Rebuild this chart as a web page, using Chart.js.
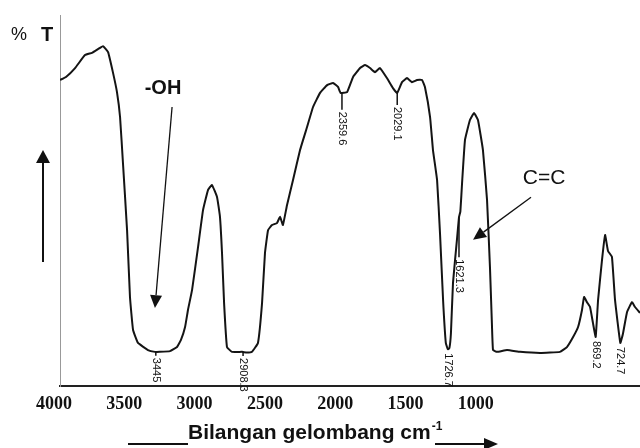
<!DOCTYPE html>
<html>
<head>
<meta charset="utf-8">
<script src="https://cdn.jsdelivr.net/npm/chart.js@4.4.1/dist/chart.umd.min.js"></script>
<style>
  html, body { margin: 0; padding: 0; background: #fff; }
  #wrap { width: 640px; height: 448px; position: relative; }
</style>
</head>
<body>
<div id="wrap"><canvas id="ir"></canvas></div>
<script>
// Spectrum (wavenumber in cm-1, %T)
const wavenumber = [4000, 3965, 3912, 3854, 3813, 3778, 3749, 3719, 3690, 3667, 3649, 3632, 3608, 3591, 3573, 3544,
  3486, 3445, 3416, 3357, 3316, 3293, 3269, 3252, 3228, 3193, 3164, 3135, 3112, 3082, 3065, 3053, 3041, 3024, 2995,
  2936, 2908, 2878, 2843, 2819, 2802, 2784, 2761, 2732, 2714, 2697, 2673, 2638, 2597, 2556, 2521, 2480, 2439, 2404,
  2375, 2360, 2322, 2287, 2246, 2217, 2188, 2159, 2130, 2089, 2054, 2029, 2001, 1972, 1943, 1913, 1884, 1867, 1837,
  1820, 1796, 1779, 1761, 1745, 1733, 1724, 1715, 1703, 1680, 1668, 1660, 1650, 1633, 1604, 1580, 1557, 1528, 1504,
  1487, 1475, 1469, 1446, 1387, 1311, 1194, 1078, 1037, 1001, 972, 949, 937, 920, 902, 885, 869, 855, 832, 814, 797,
  774, 756, 725, 710, 686, 657, 639, 610];
const transmittance = [82.5, 83.3, 85.7, 89.2, 89.8, 90.8, 91.6, 90.0, 84.4, 79.2, 72.5, 60.1, 42.0, 24.0, 15.1, 11.6,
  9.7, 9.2, 9.2, 9.4, 10.5, 12.4, 15.9, 20.5, 25.9, 37.5, 47.4, 52.8, 54.2, 50.9, 45.6, 35.8, 22.4, 10.5, 9.2,
  9.2, 9.0, 9.2, 11.6, 22.4, 35.8, 42.0, 43.4, 43.9, 45.6, 43.4, 48.8, 55.5, 63.6, 69.8, 75.2, 79.0, 81.1, 81.7,
  80.6, 79.0, 79.2, 83.3, 85.7, 86.5, 85.7, 84.6, 85.7, 83.0, 80.3, 79.0, 81.9, 83.0, 81.9, 82.5, 82.5, 80.6, 72.5,
  63.6, 55.5, 41.2, 23.2, 11.6, 9.9, 10.2, 14.3, 27.8, 39.4, 45.5, 47.0, 54.7, 66.3, 71.7, 73.6, 71.7, 63.6, 50.1,
  32.1, 16.0, 9.7, 9.2, 9.7, 9.2, 8.9, 9.2, 10.5, 13.2, 15.9, 20.5, 24.0, 22.6, 21.3, 17.0, 13.2, 23.2, 34.0, 40.7, 36.4,
  34.8, 23.2, 11.6, 14.0, 19.9, 22.6, 21.3, 19.7];

// Axis tick labels as printed on the figure
const tickValues = [4000, 3500, 3000, 2500, 2000, 1500, 1000];

// Peak labels and where on the curve each one hangs
const peakText = ['3445', '2908.3', '2359.6', '2029.1', '1726.7', '1621.3', '869.2', '724.7'];
const peakAt = [3440, 2930, 2352, 2029, 1733, 1668, 869, 725];
const peakLine = [2, 2, 15, 10, 0, 38, 0, 0];

// Group annotations: [label, text wn, text %T, arrow from wn, %T, arrow to wn, %T]
const groupNotes = [
  ['-OH', 3398, 80.3, 3345, 75.2, 3445, 21.0],
  ['C=C', 1171, 56.1, 1247, 50.9, 1586, 39.4]
];

function tAt(wn) {
  for (let i = 0; i < wavenumber.length - 1; i++) {
    const a = wavenumber[i], b = wavenumber[i + 1];
    if (wn <= a && wn >= b) {
      const f = (a - wn) / (a - b);
      return transmittance[i] + f * (transmittance[i + 1] - transmittance[i]);
    }
  }
  return transmittance[transmittance.length - 1];
}

function arrow(ctx, x1, y1, x2, y2, len, half) {
  const ang = Math.atan2(y2 - y1, x2 - x1);
  const bx = x2 - len * Math.cos(ang), by = y2 - len * Math.sin(ang);
  ctx.beginPath();
  ctx.moveTo(x1, y1);
  ctx.lineTo(bx, by);
  ctx.stroke();
  ctx.beginPath();
  ctx.moveTo(x2, y2);
  ctx.lineTo(bx + half * Math.sin(ang), by - half * Math.cos(ang));
  ctx.lineTo(bx - half * Math.sin(ang), by + half * Math.cos(ang));
  ctx.closePath();
  ctx.fill();
}

const decor = {
  id: 'decor',
  afterDatasetsDraw(chart) {
    const ctx = chart.ctx;
    const x = chart.scales.x, y = chart.scales.y;
    ctx.save();
    ctx.fillStyle = '#111';
    ctx.strokeStyle = '#111';

    // peak labels, rotated
    ctx.font = '11px "Liberation Sans", Arial, sans-serif';
    peakText.forEach((txt, i) => {
      const px = x.getPixelForValue(peakAt[i]);
      const py = y.getPixelForValue(tAt(peakAt[i])) + 2;
      if (peakLine[i] > 0) {
        ctx.lineWidth = 1.5;
        ctx.beginPath();
        ctx.moveTo(px, py - 2);
        ctx.lineTo(px, py + peakLine[i]);
        ctx.stroke();
      }
      ctx.save();
      ctx.translate(px, py + peakLine[i] + 2);
      ctx.rotate(Math.PI / 2);
      ctx.textAlign = 'left';
      ctx.textBaseline = 'middle';
      ctx.fillText(txt, 0, 0);
      ctx.restore();
    });

    // group labels with arrows
    groupNotes.forEach((n, i) => {
      ctx.font = i === 0 ? 'bold 20px "Liberation Sans", Arial, sans-serif' : '21px "Liberation Sans", Arial, sans-serif';
      ctx.textAlign = 'center';
      ctx.textBaseline = 'middle';
      ctx.fillText(n[0], x.getPixelForValue(n[1]), y.getPixelForValue(n[2]));
      ctx.lineWidth = 1.3;
      arrow(ctx, x.getPixelForValue(n[3]), y.getPixelForValue(n[4]),
        x.getPixelForValue(n[5]), y.getPixelForValue(n[6]), 13, 6);
    });
    ctx.restore();
  },
  afterDraw(chart) {
    const ctx = chart.ctx;
    ctx.save();
    ctx.fillStyle = '#111';
    ctx.strokeStyle = '#111';
    // "% T"
    ctx.textBaseline = 'alphabetic';
    ctx.textAlign = 'left';
    ctx.font = '18px "Liberation Sans", Arial, sans-serif';
    ctx.fillText('%', 11, 40);
    ctx.font = 'bold 20px "Liberation Sans", Arial, sans-serif';
    ctx.fillText('T', 41, 41);
    // upward arrow on the left
    ctx.lineWidth = 2;
    arrow(ctx, 43, 262, 43, 150, 13, 7);
    // axis title
    ctx.font = 'bold 21px "Liberation Sans", Arial, sans-serif';
    ctx.fillText('Bilangan gelombang cm', 188, 439);
    const w = ctx.measureText('Bilangan gelombang cm').width;
    ctx.font = 'bold 12px "Liberation Sans", Arial, sans-serif';
    ctx.fillText('-1', 188 + w + 1, 430);
    ctx.lineWidth = 2;
    ctx.beginPath();
    ctx.moveTo(128, 444);
    ctx.lineTo(188, 444);
    ctx.stroke();
    arrow(ctx, 435, 444, 498, 444, 14, 6);
    ctx.restore();
  }
};

new Chart(document.getElementById('ir'), {
  type: 'line',
  data: {
    datasets: [{
      data: wavenumber.map((w, i) => ({ x: w, y: transmittance[i] })),
      borderColor: '#141414',
      borderWidth: 2,
      pointRadius: 0,
      tension: 0.1,
      fill: false
    }]
  },
  options: {
    responsive: true,
    maintainAspectRatio: false,
    animation: false,
    devicePixelRatio: 1,
    layout: { padding: { top: 15, left: 0, right: 0, bottom: 0 } },
    plugins: { legend: { display: false }, tooltip: { enabled: false } },
    scales: {
      x: {
        type: 'linear',
        display: false,
        reverse: true,
        min: 610,
        max: 4000
      },
      xt: {
        type: 'linear',
        position: 'bottom',
        reverse: true,
        min: -125,
        max: 4000,
        grid: { display: false, drawTicks: false },
        border: { display: true, color: '#222', width: 2 },
        afterBuildTicks: (s) => { s.ticks = tickValues.map(v => ({ value: v })); },
        afterFit: (s) => { s.height = 62; },
        ticks: {
          padding: 8,
          labelOffset: -6,
          maxRotation: 0,
          autoSkip: false,
          color: '#111',
          font: { family: '"Liberation Serif", "Times New Roman", serif', size: 18, weight: 'bold' },
          callback: (v) => String(v)
        }
      },
      y: {
        min: 0,
        max: 100,
        grid: { display: false, drawTicks: false },
        border: { display: true, color: '#999', width: 1 },
        ticks: { display: false },
        afterFit: (s) => { s.width = 60; }
      }
    }
  },
  plugins: [decor]
});
</script>
</body>
</html>
